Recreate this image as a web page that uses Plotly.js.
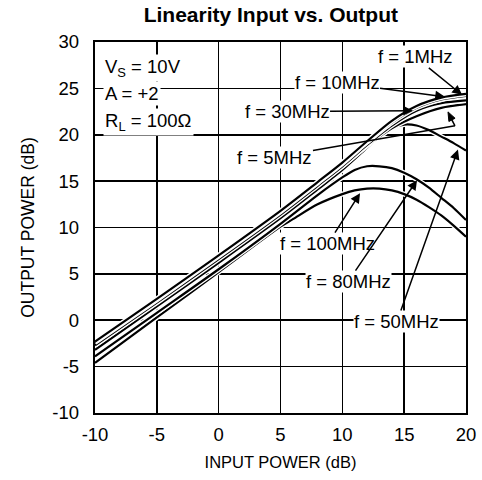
<!DOCTYPE html>
<html><head><meta charset="utf-8">
<script src="https://cdn.plot.ly/plotly-3.0.1.min.js"></script>
<style>body{margin:0;background:#fff}#chart{width:482px;height:480px}</style>
</head><body><div id="chart"></div>
<script>
// Input power (dB) sample points and output power (dB) per frequency
const xSat = [-10, -5, 0, 5, 8, 10, 12, 14, 16, 18, 20];
const out1MHz  = [-2.3, 2.3, 7.0, 11.8, 14.9, 17.0, 19.3, 21.5, 23.1, 24.0, 24.4];
const out10MHz = [-2.4, 2.2, 6.9, 11.7, 14.8, 16.9, 19.2, 21.3, 22.9, 23.8, 24.2];
const out30MHz = [-2.7, 1.9, 6.6, 11.4, 14.5, 16.6, 18.9, 21.0, 22.6, 23.4, 23.7];
const out5MHz  = [-2.5, 2.1, 6.8, 11.6, 14.6, 16.6, 18.8, 20.7, 22.0, 22.9, 23.3];
const x50 = [-10, -5, 0, 5, 8, 10, 12, 13, 14, 15, 16, 17, 18, 19, 20];
const out50MHz = [-3.2, 1.5, 6.2, 11.0, 14.1, 16.2, 18.6, 19.8, 20.7, 21.1, 21.0, 20.5, 19.8, 19.1, 18.3];
const x80 = [-10, -5, 0, 5, 8, 10, 11, 12, 13, 14, 15, 16, 17, 18, 19, 20];
const out80MHz = [-3.9, 0.8, 5.5, 10.4, 13.5, 15.4, 16.2, 16.6, 16.6, 16.4, 15.9, 15.2, 14.3, 13.2, 12.1, 10.8];
const x100 = [-10, -5, 0, 5, 6, 8, 10, 11, 12, 13, 14, 15, 16, 17, 18, 19, 20];
const out100MHz = [-4.6, 0.3, 5.2, 10.1, 10.9, 12.5, 13.6, 14.0, 14.2, 14.2, 14.0, 13.6, 13.0, 12.2, 11.3, 10.2, 9.0];

const xTicks = [-10, -5, 0, 5, 10, 15, 20];
const yTicks = [-10, -5, 0, 5, 10, 15, 20, 25, 30];

const series = [
  {name: 'f = 100MHz', x: x100, y: out100MHz},
  {name: 'f = 80MHz', x: x80, y: out80MHz},
  {name: 'f = 50MHz', x: x50, y: out50MHz},
  {name: 'f = 5MHz', x: xSat, y: out5MHz},
  {name: 'f = 30MHz', x: xSat, y: out30MHz},
  {name: 'f = 10MHz', x: xSat, y: out10MHz},
  {name: 'f = 1MHz', x: xSat, y: out1MHz}
];

const traces = [];
series.forEach(s => {
  traces.push({x: s.x, y: s.y, mode: 'lines', hoverinfo: 'skip', showlegend: false,
    line: {color: '#fff', width: 5, shape: 'spline', smoothing: 0.8}});
  traces.push({x: s.x, y: s.y, mode: 'lines', name: s.name, showlegend: false,
    line: {color: '#000', width: 2.2, shape: 'spline', smoothing: 0.8}});
});

const FONT = 'Liberation Sans, Arial, sans-serif';
const FS = 18.5;
const lab = (text, x, y, ax, ay, extra) => Object.assign({
  text: text, x: x, y: y, ax: ax, ay: ay, axref: 'x', ayref: 'y', xref: 'x', yref: 'y',
  showarrow: true, arrowhead: 2, arrowsize: 1.3, arrowwidth: 1.5, arrowcolor: '#000',
  bgcolor: '#fff', borderpad: 0, font: {family: FONT, size: FS, color: '#000'}
}, extra || {});

const annotations = [
  lab('f = 1MHz', 19.68, 24.3, 15.9, 28.4),
  lab('f = 10MHz', 18.3, 24.1, 9.57, 25.6),
  lab('f = 30MHz', 15.71, 22.6, 5.53, 22.5),
  lab('f = 5MHz', 19.11, 20.96, 4.55, 17.6, {arrowhead: 0}),
  lab('f = 100MHz', 11.43, 13.7, 8.84, 8.26),
  lab('f = 80MHz', 16.04, 15.1, 10.46, 4.17),
  lab('f = 50MHz', 19.35, 18.4, 14.42, -0.14),
  {text: 'V<sub>S</sub> = 10V', x: -9.35, y: 27.2, xref: 'x', yref: 'y', xanchor: 'left', showarrow: false,
   bgcolor: '#fff', font: {family: FONT, size: FS, color: '#000'}},
  {text: 'A = +2', x: -9.35, y: 24.5, xref: 'x', yref: 'y', xanchor: 'left', showarrow: false,
   bgcolor: '#fff', font: {family: FONT, size: FS, color: '#000'}},
  {text: 'R<sub>L</sub> = 100Ω', x: -9.35, y: 21.4, xref: 'x', yref: 'y', xanchor: 'left', showarrow: false,
   bgcolor: '#fff', font: {family: FONT, size: FS, color: '#000'}}
];

// second leg of the bent "f = 5MHz" pointer, with its arrowhead
const shapes = [
  {type: 'line', xref: 'x', yref: 'y', x0: 19.11, y0: 20.96, x1: 18.78, y1: 21.8,
   line: {color: '#000', width: 1.5}},
  {type: 'path', xref: 'x', yref: 'y', path: 'M 18.544 22.465 L 19.118 21.776 L 18.617 21.432 Z',
   fillcolor: '#000', line: {color: '#000', width: 1}}
];

const axisCommon = {
  showgrid: true, gridcolor: '#000', gridwidth: 1.6, zeroline: false,
  showline: true, linecolor: '#000', linewidth: 2.2, mirror: true,
  ticks: 'outside', tickcolor: 'rgba(0,0,0,0)',
  tickfont: {family: FONT, size: FS, color: '#000'}
};

const layout = {
  width: 482, height: 480,
  margin: {l: 95, r: 16, t: 42, b: 67},
  paper_bgcolor: '#fff', plot_bgcolor: '#fff',
  title: {text: '<b>Linearity Input vs. Output</b>', x: 0.474, xref: 'paper', xanchor: 'center',
          y: 1, yref: 'container', yanchor: 'top', pad: {t: 7},
          font: {family: FONT, size: 21, color: '#000'}},
  xaxis: Object.assign({}, axisCommon, {range: [-10, 20], tickvals: xTicks, ticktext: xTicks.map(String),
          ticklen: 4,
          title: {text: 'INPUT POWER (dB)', font: {family: FONT, size: 16.5, color: '#000'}, standoff: 12}}),
  yaxis: Object.assign({}, axisCommon, {range: [-10, 30], tickvals: yTicks, ticktext: yTicks.map(String),
          ticklen: 10,
          title: {text: 'OUTPUT POWER (dB)', font: {family: FONT, size: 17.5, color: '#000'}, standoff: 13}}),
  annotations: annotations,
  shapes: shapes,
  showlegend: false
};

Plotly.newPlot('chart', traces, layout, {staticPlot: true, displayModeBar: false});
</script></body></html>
